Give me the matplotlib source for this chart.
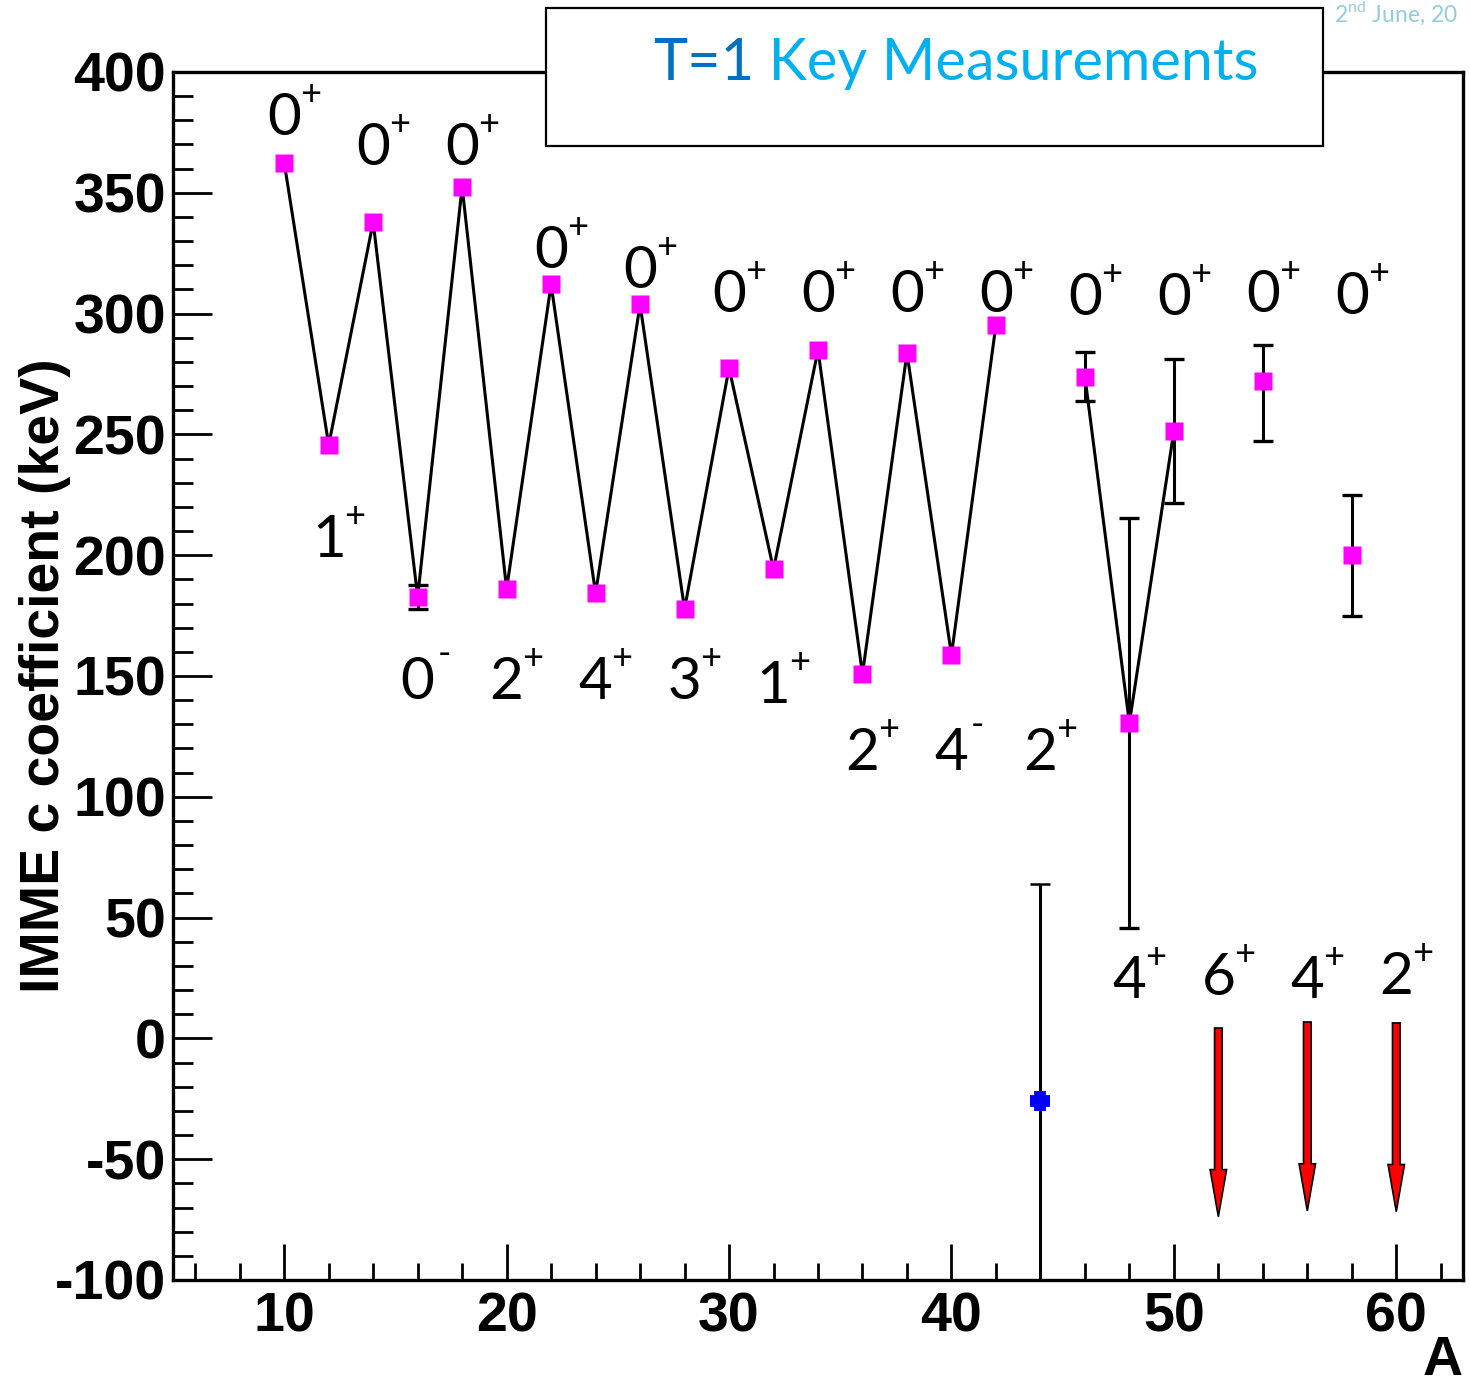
import matplotlib
matplotlib.use("Agg")
import matplotlib.pyplot as plt
from matplotlib.patches import Rectangle, FancyArrow
from matplotlib.text import Annotation
from matplotlib.ticker import MultipleLocator
import numpy as np

plt.rcParams["font.family"] = ["Liberation Sans", "DejaVu Sans"]
plt.rcParams["axes.unicode_minus"] = False
plt.rcParams["mathtext.fontset"] = "custom"
plt.rcParams["mathtext.rm"] = "Lato"

# measured IMME c coefficients (keV), T=1 multiplets
A_pts = [10, 12, 14, 16, 18, 20, 22, 24, 26, 28, 30, 32, 34, 36, 38, 40, 42,
         46, 48, 50, 54, 58]
c_pts = [362.5, 245.6, 337.9, 182.7, 352.5, 186.0, 312.1, 184.2, 303.8, 177.7,
         277.5, 194.2, 285.0, 150.8, 283.7, 158.7, 295.3,
         273.9, 130.5, 251.4, 272.2, 200.0]
err_lo = [0, 0, 0, 5, 0, 0, 0, 0, 0, 0, 0, 0, 0, 0, 0, 0, 0,
          10, 85, 30, 25, 25]
err_hi = [0, 0, 0, 5, 0, 0, 0, 0, 0, 0, 0, 0, 0, 0, 0, 0, 0,
          10, 85, 30, 15, 25]

# points joined by the zig-zag line
chain_1 = [10, 12, 14, 16, 18, 20, 22, 24, 26, 28, 30, 32, 34, 36, 38, 40, 42]
chain_2 = [46, 48, 50]

# A=44 (blue cross)
A_44 = [44]
c_44 = [-26.0]
err_44 = [90.0]

# upper limits (red arrows)
lim_A = [52, 56, 60]
lim_top = [4.3, 6.8, 6.4]
lim_tip = [-73.8, -71.4, -71.7]

# J^pi labels
lab_A = [10, 12, 14, 16, 18, 20, 22, 24, 26, 28, 30, 32, 34, 36, 38, 40, 42,
         44, 46, 48, 50, 52, 54, 56, 58, 60]
lab_y = [382.6, 208.0, 370.2, 149.2, 370.2, 149.2, 327.6, 149.2, 319.3, 149.2,
         309.4, 147.5, 309.4, 119.8, 309.4, 119.8, 309.4, 119.8, 308.1, 25.4,
         308.1, 26.7, 309.4, 25.4, 308.5, 27.1]
lab_J = ["0", "1", "0", "0", "0", "2", "0", "4", "0", "3", "0", "1", "0",
         "2", "0", "4", "0", "2", "0", "4", "0", "6", "0", "4", "0", "2"]
lab_P = ["+", "+", "+", "-", "+", "+", "+", "+", "+", "+", "+", "+", "+",
         "+", "+", "-", "+", "+", "+", "+", "+", "+", "+", "+", "+", "+"]

fig = plt.figure(figsize=(14.7, 13.87), dpi=100)
ax = fig.add_axes([173 / 1470, 1 - 1280 / 1387, 1290 / 1470, 1208 / 1387])
ax.set_xlim(5, 63)
ax.set_ylim(-100, 400)

lookup = dict(zip(A_pts, c_pts))
for chain in (chain_1, chain_2):
    ax.plot(chain, [lookup[a] for a in chain], color="black", lw=2.2, zorder=2)

A_arr = np.array(A_pts)
c_arr = np.array(c_pts)
lo = np.array(err_lo)
hi = np.array(err_hi)
m = (lo > 0) | (hi > 0)
ax.errorbar(A_arr[m], c_arr[m], yerr=[lo[m], hi[m]], fmt="none",
            ecolor="black", elinewidth=2.2, capsize=7, capthick=2.4, zorder=2)
ax.plot(A_pts, c_pts, ls="none", marker="s", ms=13.5, color="#ff00ff",
        mec="none", zorder=3)

ax.errorbar(A_44, c_44, yerr=err_44, fmt="none", ecolor="black",
            elinewidth=2.2, capsize=7, capthick=1.8, zorder=2)
ax.plot(A_44, c_44, ls="none", marker="+", ms=15, mew=8.5, color="#0000ff",
        zorder=3)

for a, top, tip in zip(lim_A, lim_top, lim_tip):
    ax.add_patch(FancyArrow(a, top, 0, tip - top, width=0.34, head_width=0.74,
                            head_length=19.5, length_includes_head=True,
                            fc="#ff0000", ec="black", lw=1.2, zorder=3))

for a, y, j, p in zip(lab_A, lab_y, lab_J, lab_P):
    ax.annotate(j, (a, y), xytext=(0, -15), textcoords="offset points",
                ha="center", va="baseline", fontsize=42, family="Lato")
    dy = 6.5 if p == "+" else 9
    ax.annotate(p, (a, y), xytext=(19, dy), textcoords="offset points",
                ha="center", va="baseline", fontsize=26, family="Lato")

ax.xaxis.set_major_locator(MultipleLocator(10))
ax.xaxis.set_minor_locator(MultipleLocator(2))
ax.yaxis.set_major_locator(MultipleLocator(50))
ax.yaxis.set_minor_locator(MultipleLocator(10))
ax.tick_params(axis="x", which="major", direction="in", length=26, width=2,
               pad=8, labelsize=40)
ax.tick_params(axis="x", which="minor", direction="in", length=12, width=2)
ax.tick_params(axis="y", which="major", direction="in", length=28, width=2,
               pad=5, labelsize=40)
ax.tick_params(axis="y", which="minor", direction="in", length=14.5, width=2)
for lab in ax.get_xticklabels() + ax.get_yticklabels():
    lab.set_fontweight("bold")
for sp in ax.spines.values():
    sp.set_linewidth(2.4)

ax.set_ylabel("IMME c coefficient (keV)", fontsize=40, fontweight="bold",
              va="center")
ax.yaxis.set_label_coords(-0.099, 0.5)
ax.set_xlabel("A", fontsize=40, fontweight="bold", ha="right", va="baseline")
ax.xaxis.set_label_coords(1.0, -0.079)

# title box
fig.add_artist(Rectangle((546 / 1470, 1 - 146 / 1387), 777 / 1470, 138 / 1387,
                         transform=fig.transFigure, fc="white", ec="black",
                         lw=1.6, zorder=5))
t1 = fig.text(653 / 1470, 1 - 80 / 1387, "T=1", color="#0070c0", fontsize=41.5,
              family="Lato", ha="left", va="baseline", zorder=6)
t2 = Annotation(" Key Measurements", xy=(1, 0), xycoords=t1,
                ha="left", va="bottom", color="#00b0f0", fontsize=41.5,
                family="Lato", annotation_clip=False, zorder=6)
fig.add_artist(t2)

fig.text(1334 / 1470, 1 - 22 / 1387, r"2$^{\mathrm{nd}}$ June, 20",
         color="#93cddd", fontsize=16.5, family="Lato", ha="left",
         va="baseline")

fig.savefig("out.png", dpi=100)
